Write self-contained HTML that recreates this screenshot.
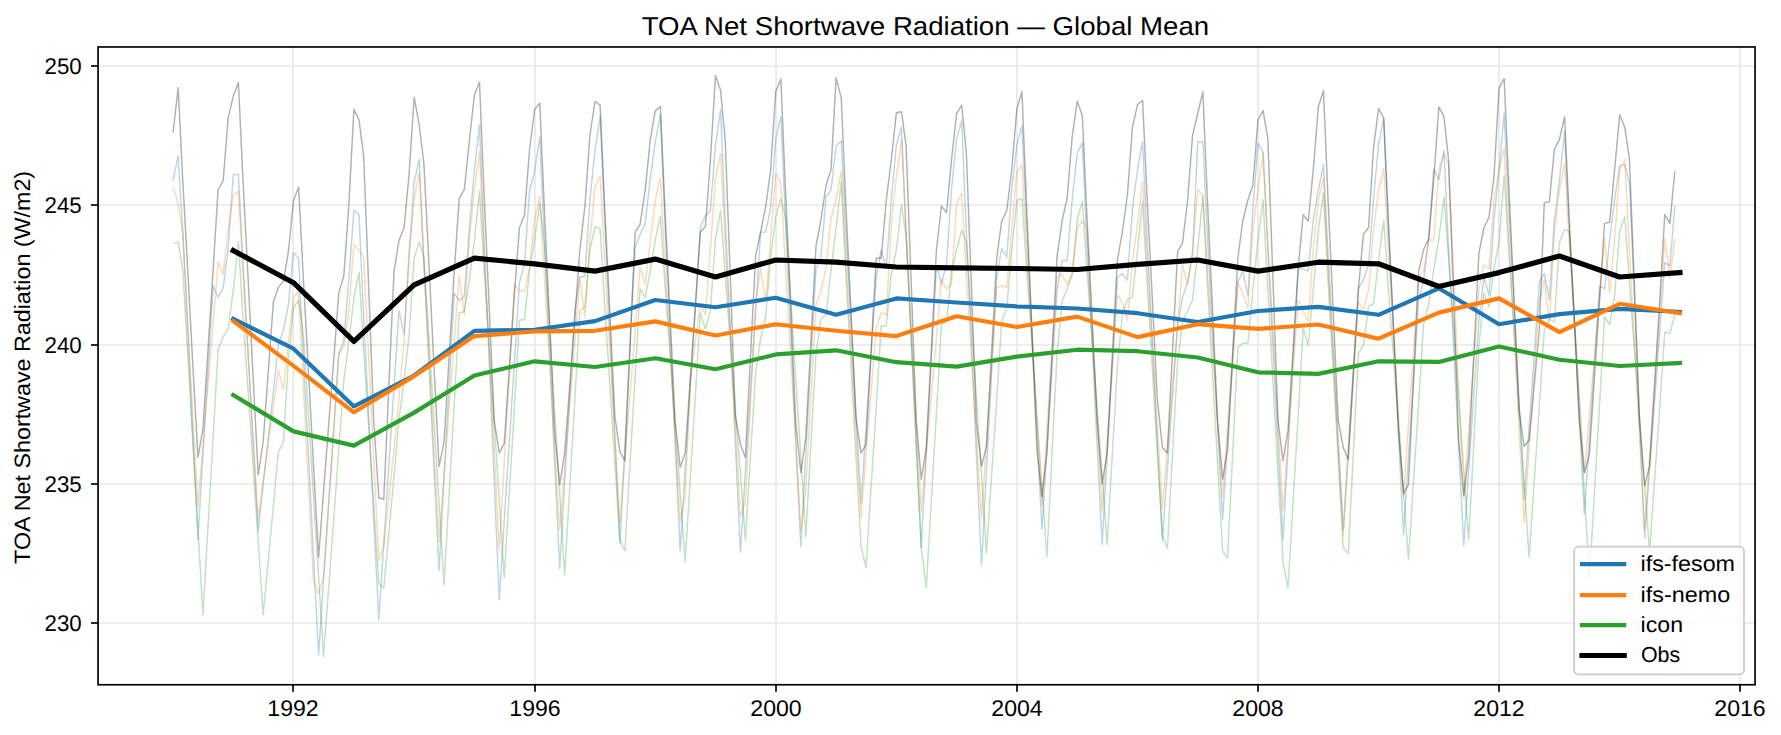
<!DOCTYPE html><html><head><meta charset="utf-8"><style>html,body{margin:0;padding:0;background:#fff;overflow:hidden}svg{display:block}text{font-family:"Liberation Sans",sans-serif;fill:#000;text-rendering:geometricPrecision}</style></head><body><svg width="1781" height="735" viewBox="0 0 1781 735"><rect x="0" y="0" width="1781" height="735" fill="#fff"/><line x1="98.05" y1="623.00" x2="1755.05" y2="623.00" stroke="#e8e8e8" stroke-width="1.67"/><line x1="98.05" y1="484.00" x2="1755.05" y2="484.00" stroke="#e8e8e8" stroke-width="1.67"/><line x1="98.05" y1="345.00" x2="1755.05" y2="345.00" stroke="#e8e8e8" stroke-width="1.67"/><line x1="98.05" y1="205.00" x2="1755.05" y2="205.00" stroke="#e8e8e8" stroke-width="1.67"/><line x1="98.05" y1="66.00" x2="1755.05" y2="66.00" stroke="#e8e8e8" stroke-width="1.67"/><line x1="293.00" y1="46.97" x2="293.00" y2="684.76" stroke="#e8e8e8" stroke-width="1.67"/><line x1="535.00" y1="46.97" x2="535.00" y2="684.76" stroke="#e8e8e8" stroke-width="1.67"/><line x1="776.00" y1="46.97" x2="776.00" y2="684.76" stroke="#e8e8e8" stroke-width="1.67"/><line x1="1017.00" y1="46.97" x2="1017.00" y2="684.76" stroke="#e8e8e8" stroke-width="1.67"/><line x1="1258.00" y1="46.97" x2="1258.00" y2="684.76" stroke="#e8e8e8" stroke-width="1.67"/><line x1="1499.00" y1="46.97" x2="1499.00" y2="684.76" stroke="#e8e8e8" stroke-width="1.67"/><line x1="1740.00" y1="46.97" x2="1740.00" y2="684.76" stroke="#e8e8e8" stroke-width="1.67"/><defs><clipPath id="ax"><rect x="98.05" y="46.97" width="1657.0" height="637.79"/></clipPath></defs><g clip-path="url(#ax)" fill="none" stroke-linejoin="round" stroke-linecap="butt"><polyline points="173.04,181.00 178.15,155.90 182.77,231.00 187.89,333.70 192.84,436.40 197.96,539.10 202.91,454.57 208.02,370.03 213.14,285.50 218.09,297.40 223.20,287.60 228.16,249.00 233.27,174.40 238.39,174.40 243.01,263.65 248.12,352.90 253.08,442.15 258.19,531.40 263.14,484.80 268.26,438.20 273.37,391.60 278.33,345.00 283.44,330.00 288.39,305.00 293.51,252.80 298.62,258.20 303.41,357.38 308.53,456.55 313.48,555.72 318.59,654.90 323.54,579.92 328.66,504.95 333.78,429.98 338.73,355.00 343.84,340.00 348.79,280.00 353.91,210.40 359.03,214.70 363.65,316.02 368.76,417.35 373.71,518.67 378.83,620.00 383.78,542.62 388.90,465.25 394.01,387.88 398.96,310.50 404.08,334.40 409.03,260.00 414.15,182.00 419.26,159.20 423.88,262.05 429.00,364.90 433.95,467.75 439.07,570.60 444.02,478.10 449.13,385.60 454.25,293.10 459.20,300.70 464.32,296.00 469.27,229.00 474.38,170.00 479.50,124.40 484.12,243.20 489.24,362.00 494.19,480.80 499.30,599.60 504.25,520.25 509.37,440.90 514.49,361.55 519.44,282.20 524.55,264.00 529.50,190.80 534.62,171.20 539.74,137.00 544.52,244.85 549.64,352.70 554.59,460.55 559.71,568.40 564.66,482.27 569.77,396.13 574.89,310.00 579.84,276.80 584.96,276.80 589.91,200.00 595.02,150.50 600.14,116.10 604.76,222.92 609.87,329.75 614.83,436.57 619.94,543.40 624.89,444.73 630.01,346.07 635.12,247.40 640.08,234.30 645.19,223.40 650.14,180.00 655.26,141.80 660.37,114.60 665.00,223.70 670.11,332.80 675.06,441.90 680.18,551.00 685.13,470.20 690.25,389.40 695.36,308.60 700.31,227.80 705.43,215.80 710.38,210.40 715.50,145.00 720.61,109.60 725.23,220.22 730.35,330.85 735.30,441.48 740.42,552.10 745.37,472.10 750.48,392.10 755.60,312.10 760.55,232.10 765.67,232.10 770.62,208.00 775.73,138.50 780.85,116.70 785.63,224.20 790.75,331.70 795.70,439.20 800.82,546.70 805.77,453.80 810.88,360.90 816.00,268.00 820.95,257.00 826.07,197.00 831.02,190.00 836.13,146.10 841.25,140.70 845.87,231.32 850.99,321.95 855.94,412.57 861.05,503.20 866.00,427.80 871.12,352.40 876.24,277.00 881.19,250.00 886.30,268.00 891.25,200.00 896.37,145.00 901.49,127.00 906.11,232.20 911.22,337.40 916.17,442.60 921.29,547.80 926.24,453.87 931.36,359.93 936.47,266.00 941.42,284.40 946.54,263.00 951.49,190.00 956.61,138.50 961.72,121.10 966.34,232.27 971.46,343.45 976.41,454.62 981.53,565.80 986.48,469.80 991.59,373.80 996.71,277.80 1001.66,248.50 1006.78,257.20 1011.73,190.00 1016.84,145.00 1021.96,125.90 1026.75,226.75 1031.86,327.60 1036.81,428.45 1041.93,529.30 1046.88,449.53 1052.00,369.77 1057.11,290.00 1062.06,260.40 1067.18,260.40 1072.13,200.00 1077.25,153.70 1082.36,142.90 1086.98,243.30 1092.10,343.70 1097.05,444.10 1102.17,544.50 1107.12,455.60 1112.23,366.70 1117.35,277.80 1122.30,273.50 1127.42,280.00 1132.37,210.00 1137.48,170.00 1142.60,141.80 1147.22,241.65 1152.34,341.50 1157.29,441.35 1162.40,541.20 1167.35,469.13 1172.47,397.07 1177.59,325.00 1182.54,297.00 1187.65,282.20 1192.60,253.90 1197.72,141.80 1202.83,141.80 1207.46,236.23 1212.57,330.65 1217.52,425.07 1222.64,519.50 1227.59,440.40 1232.71,361.30 1237.82,282.20 1242.77,271.30 1247.89,296.30 1252.84,210.00 1257.96,142.90 1263.07,152.70 1267.86,249.57 1272.97,346.45 1277.92,443.33 1283.04,540.20 1287.99,449.63 1293.11,359.07 1298.22,268.50 1303.17,269.10 1308.29,270.90 1313.24,220.00 1318.36,190.00 1323.47,164.60 1328.09,255.95 1333.21,347.30 1338.16,438.65 1343.28,530.00 1348.23,449.57 1353.34,369.13 1358.46,288.70 1363.41,280.00 1368.53,264.80 1373.48,200.00 1378.59,144.00 1383.71,118.90 1388.33,222.93 1393.45,326.95 1398.40,430.98 1403.51,535.00 1408.46,456.67 1413.58,378.33 1418.70,300.00 1423.65,280.00 1428.76,238.70 1433.71,169.00 1438.83,179.90 1443.95,150.50 1448.57,249.28 1453.68,348.05 1458.63,446.83 1463.75,545.60 1468.70,470.40 1473.82,395.20 1478.93,320.00 1483.88,277.80 1489.00,295.30 1493.95,220.00 1499.07,170.00 1504.18,113.00 1508.97,209.72 1514.09,306.45 1519.04,403.17 1524.15,499.90 1529.10,427.33 1534.22,354.77 1539.34,282.20 1544.29,273.50 1549.40,299.60 1554.35,220.00 1559.47,180.00 1564.59,132.00 1569.21,227.50 1574.32,323.00 1579.27,418.50 1584.39,514.00 1589.34,438.17 1594.46,362.33 1599.57,286.50 1604.52,288.70 1609.64,240.00 1614.59,200.00 1619.71,165.70 1624.82,164.60 1629.44,183.00 1634.56,301.33 1639.51,419.67 1644.63,538.00 1649.58,469.15 1654.69,400.30 1659.81,331.45 1664.76,262.60 1669.88,265.90 1674.83,206.00" stroke="#1f77b4" stroke-opacity="0.3" stroke-width="1.45"/><polyline points="173.04,186.40 178.15,204.00 182.77,234.00 187.89,324.80 192.84,415.60 197.96,506.40 202.91,445.35 208.02,384.30 213.14,323.25 218.09,262.20 223.20,274.60 228.16,230.00 233.27,195.10 238.39,190.80 243.01,272.70 248.12,354.60 253.08,436.50 258.19,518.40 263.14,481.30 268.26,444.20 273.37,407.10 278.33,370.00 283.44,390.00 288.39,342.00 293.51,298.00 298.62,291.00 303.41,387.83 308.53,484.67 313.48,581.50 318.59,593.50 323.54,577.20 328.66,502.47 333.78,427.73 338.73,353.00 343.84,347.00 348.79,311.00 353.91,244.10 359.03,250.60 363.65,257.20 368.76,358.40 373.71,459.60 378.83,560.80 383.78,546.70 388.90,497.80 394.01,448.90 398.96,400.00 404.08,340.00 409.03,250.00 414.15,200.00 419.26,172.30 423.88,264.80 429.00,357.30 433.95,449.80 439.07,542.30 444.02,475.65 449.13,409.00 454.25,342.35 459.20,275.70 464.32,314.90 469.27,240.00 474.38,190.00 479.50,151.60 484.12,251.20 489.24,350.80 494.19,450.40 499.30,550.00 504.25,461.47 509.37,372.93 514.49,284.40 519.44,290.90 524.55,290.90 529.50,268.00 534.62,220.00 539.74,196.20 544.52,279.65 549.64,363.10 554.59,446.55 559.71,530.00 564.66,467.25 569.77,404.50 574.89,341.75 579.84,279.00 584.96,317.00 589.91,240.00 595.02,186.40 600.14,176.20 604.76,262.82 609.87,349.45 614.83,436.08 619.94,522.70 624.89,458.78 630.01,394.85 635.12,330.93 640.08,267.00 645.19,284.40 650.14,243.00 655.26,200.00 660.37,177.70 665.00,263.70 670.11,349.70 675.06,435.70 680.18,521.70 685.13,496.60 690.25,380.00 695.36,342.00 700.31,304.00 705.43,314.90 710.38,249.50 715.50,177.70 720.61,153.70 725.23,244.32 730.35,334.95 735.30,425.58 740.42,516.20 745.37,503.20 750.48,403.60 755.60,304.00 760.55,268.00 765.67,301.80 770.62,240.00 775.73,173.30 780.85,183.10 785.63,269.82 790.75,356.55 795.70,443.27 800.82,530.00 805.77,490.00 810.88,397.50 816.00,305.00 820.95,291.00 826.07,268.00 831.02,218.00 836.13,200.00 841.25,171.20 845.87,258.00 850.99,344.80 855.94,431.60 861.05,518.40 866.00,454.90 871.12,391.40 876.24,327.90 881.19,312.70 886.30,314.90 891.25,225.00 896.37,176.60 901.49,139.60 906.11,232.67 911.22,325.75 916.17,418.82 921.29,511.90 926.24,453.67 931.36,395.45 936.47,337.23 941.42,279.00 946.54,289.80 951.49,283.00 956.61,204.00 961.72,192.90 966.34,274.27 971.46,355.65 976.41,437.02 981.53,518.40 986.48,441.47 991.59,364.53 996.71,287.60 1001.66,285.50 1006.78,287.60 1011.73,230.00 1016.84,171.20 1021.96,165.30 1026.75,250.30 1031.86,335.30 1036.81,420.30 1041.93,505.30 1046.88,429.13 1052.00,352.97 1057.11,276.80 1062.06,274.60 1067.18,284.40 1072.13,275.00 1077.25,227.80 1082.36,221.20 1086.98,227.80 1092.10,322.13 1097.05,416.47 1102.17,510.80 1107.12,438.97 1112.23,367.13 1117.35,295.30 1122.30,301.80 1127.42,320.30 1132.37,262.00 1137.48,225.00 1142.60,181.00 1147.22,262.90 1152.34,344.80 1157.29,426.70 1162.40,508.60 1167.35,447.70 1172.47,386.80 1177.59,325.90 1182.54,265.00 1187.65,284.40 1192.60,250.00 1197.72,189.70 1202.83,195.10 1207.46,270.48 1212.57,345.85 1217.52,421.23 1222.64,496.60 1227.59,425.13 1232.71,353.67 1237.82,282.20 1242.77,293.10 1247.89,308.30 1252.84,230.00 1257.96,190.00 1263.07,152.70 1267.86,242.22 1272.97,331.75 1277.92,421.28 1283.04,510.80 1287.99,440.53 1293.11,370.27 1298.22,300.00 1303.17,311.00 1308.29,321.40 1313.24,250.00 1318.36,200.00 1323.47,177.70 1328.09,267.02 1333.21,356.35 1338.16,445.68 1343.28,535.00 1348.23,457.27 1353.34,379.53 1358.46,301.80 1363.41,309.40 1368.53,290.90 1373.48,230.00 1378.59,190.00 1383.71,167.90 1388.33,250.08 1393.45,332.25 1398.40,414.43 1403.51,496.60 1408.46,423.67 1413.58,350.73 1418.70,277.80 1423.65,271.30 1428.76,240.00 1433.71,240.00 1438.83,170.00 1443.95,153.10 1448.57,164.60 1453.68,276.40 1458.63,388.20 1463.75,500.00 1468.70,430.00 1473.82,360.00 1478.93,290.00 1483.88,264.80 1489.00,269.10 1493.95,200.00 1499.07,170.00 1504.18,148.30 1508.97,241.90 1514.09,335.50 1519.04,429.10 1524.15,522.70 1529.10,448.47 1534.22,374.23 1539.34,300.00 1544.29,280.00 1549.40,322.00 1554.35,232.00 1559.47,190.00 1564.59,163.50 1569.21,240.80 1574.32,318.10 1579.27,395.40 1584.39,472.70 1589.34,414.20 1594.46,355.70 1599.57,297.20 1604.52,238.70 1609.64,293.00 1614.59,240.00 1619.71,170.00 1624.82,159.20 1629.44,251.90 1634.56,344.60 1639.51,437.30 1644.63,530.00 1649.58,457.18 1654.69,384.35 1659.81,311.52 1664.76,238.70 1669.88,277.80 1674.83,238.70" stroke="#ff7f0e" stroke-opacity="0.3" stroke-width="1.45"/><polyline points="173.04,243.40 178.15,241.90 182.77,270.00 187.89,356.20 192.84,442.40 197.96,528.60 202.91,614.80 208.02,526.43 213.14,438.07 218.09,349.70 223.20,336.60 228.16,329.00 233.27,290.00 238.39,241.90 243.01,316.48 248.12,391.06 253.08,465.64 258.19,540.22 263.14,614.80 268.26,560.53 273.37,506.27 278.33,452.00 283.44,442.20 288.39,360.00 293.51,308.00 298.62,300.00 303.41,336.00 308.53,416.15 313.48,496.30 318.59,576.45 323.54,656.60 328.66,587.73 333.78,518.87 338.73,450.00 343.84,380.00 348.79,342.00 353.91,298.00 359.03,272.40 363.65,350.23 368.76,428.05 373.71,505.88 378.83,583.70 383.78,588.00 388.90,532.00 394.01,476.00 398.96,420.00 404.08,380.00 409.03,335.00 414.15,258.20 419.26,241.90 423.88,257.20 429.00,339.10 433.95,421.00 439.07,502.90 444.02,584.80 449.13,494.10 454.25,403.40 459.20,312.70 464.32,311.60 469.27,281.00 474.38,240.00 479.50,191.40 484.12,268.68 489.24,345.96 494.19,423.24 499.30,500.52 504.25,577.80 509.37,491.97 514.49,406.13 519.44,320.30 524.55,319.20 529.50,270.00 534.62,240.00 539.74,203.50 544.52,246.00 549.64,328.25 554.59,410.50 559.71,492.75 564.66,575.00 569.77,486.83 574.89,398.67 579.84,310.50 584.96,307.20 589.91,249.50 595.02,226.70 600.14,228.90 604.76,306.70 609.87,384.50 614.83,462.30 619.94,540.10 624.89,551.00 630.01,463.57 635.12,376.13 640.08,288.70 645.19,297.40 650.14,271.30 655.26,240.00 660.37,215.80 665.00,285.02 670.11,354.24 675.06,423.46 680.18,492.68 685.13,561.90 690.25,478.83 695.36,395.77 700.31,312.70 705.43,329.00 710.38,311.00 715.50,238.00 720.61,210.40 725.23,276.34 730.35,342.28 735.30,408.22 740.42,474.16 745.37,540.10 750.48,456.55 755.60,373.00 760.55,339.00 765.67,317.00 770.62,257.00 775.73,217.00 780.85,198.40 785.63,218.00 790.75,297.73 795.70,377.45 800.82,457.17 805.77,536.90 810.88,444.95 816.00,353.00 820.95,319.20 826.07,314.90 831.02,270.00 836.13,227.80 841.25,182.00 845.87,273.18 850.99,364.35 855.94,455.53 861.05,546.70 866.00,567.40 871.12,486.83 876.24,406.27 881.19,325.70 886.30,325.70 891.25,274.00 896.37,250.00 901.49,205.00 906.11,236.00 911.22,339.93 916.17,443.87 921.29,547.80 926.24,587.60 931.36,499.93 936.47,412.27 941.42,324.60 946.54,321.40 951.49,271.30 956.61,250.00 961.72,230.00 966.34,241.90 971.46,319.73 976.41,397.55 981.53,475.38 986.48,553.20 991.59,475.80 996.71,398.40 1001.66,321.00 1006.78,308.30 1011.73,250.00 1016.84,200.50 1021.96,198.40 1026.75,270.02 1031.86,341.64 1036.81,413.26 1041.93,484.88 1046.88,556.50 1052.00,454.75 1057.11,353.00 1062.06,301.80 1067.18,288.70 1072.13,274.00 1077.25,220.00 1082.36,201.00 1086.98,269.70 1092.10,338.40 1097.05,407.10 1102.17,475.80 1107.12,544.50 1112.23,455.75 1117.35,367.00 1122.30,315.00 1127.42,299.60 1132.37,297.40 1137.48,250.00 1142.60,201.60 1147.22,284.95 1152.34,368.30 1157.29,451.65 1162.40,535.00 1167.35,548.40 1172.47,455.20 1177.59,362.00 1182.54,321.00 1187.65,311.00 1192.60,299.60 1197.72,250.00 1202.83,196.20 1207.46,284.90 1212.57,373.60 1217.52,462.30 1222.64,551.00 1227.59,558.20 1232.71,452.85 1237.82,347.50 1242.77,343.20 1247.89,343.20 1252.84,290.00 1257.96,240.00 1263.07,199.50 1267.86,290.10 1272.97,380.70 1277.92,471.30 1283.04,561.90 1287.99,588.00 1293.11,501.33 1298.22,414.67 1303.17,328.00 1308.29,345.30 1313.24,290.00 1318.36,230.00 1323.47,192.90 1328.09,281.62 1333.21,370.35 1338.16,459.07 1343.28,547.80 1348.23,553.90 1353.34,453.45 1358.46,353.00 1363.41,345.30 1368.53,306.10 1373.48,304.00 1378.59,260.00 1383.71,220.10 1388.33,287.90 1393.45,355.70 1398.40,423.50 1403.51,491.30 1408.46,559.10 1413.58,480.60 1418.70,402.10 1423.65,323.60 1428.76,304.00 1433.71,270.00 1438.83,239.00 1443.95,197.30 1448.57,257.00 1453.68,327.77 1458.63,398.55 1463.75,469.33 1468.70,540.10 1473.82,443.05 1478.93,346.00 1483.88,293.10 1489.00,307.00 1493.95,268.00 1499.07,242.00 1504.18,175.50 1508.97,251.92 1514.09,328.34 1519.04,404.76 1524.15,481.18 1529.10,557.60 1534.22,481.73 1539.34,405.87 1544.29,330.00 1549.40,319.00 1554.35,322.00 1559.47,242.00 1564.59,230.00 1569.21,231.00 1574.32,318.07 1579.27,405.15 1584.39,492.22 1589.34,579.30 1594.46,491.87 1599.57,404.43 1604.52,317.00 1609.64,325.00 1614.59,296.00 1619.71,231.00 1624.82,216.90 1629.44,283.92 1634.56,350.94 1639.51,417.96 1644.63,484.98 1649.58,552.00 1654.69,478.77 1659.81,405.53 1664.76,332.30 1669.88,333.40 1674.83,314.90" stroke="#2ca02c" stroke-opacity="0.3" stroke-width="1.45"/><polyline points="173.04,132.60 178.15,87.80 182.77,180.20 187.89,272.60 192.84,365.00 197.96,457.40 202.91,429.00 208.02,349.23 213.14,269.47 218.09,189.70 223.20,180.50 228.16,117.80 233.27,96.10 238.39,82.60 243.01,180.65 248.12,278.70 253.08,376.75 258.19,474.80 263.14,442.00 268.26,371.90 273.37,301.80 278.33,287.60 283.44,281.10 288.39,251.70 293.51,200.50 298.62,187.10 303.41,279.73 308.53,372.35 313.48,464.98 318.59,557.60 323.54,491.48 328.66,425.35 333.78,359.23 338.73,293.10 343.84,275.70 348.79,206.00 353.91,109.10 359.03,120.00 363.65,155.90 368.76,287.95 373.71,420.00 378.83,497.70 383.78,499.20 388.90,385.25 394.01,271.30 398.96,240.80 404.08,227.80 409.03,175.00 414.15,97.20 419.26,125.40 423.88,163.50 429.00,264.53 433.95,365.57 439.07,466.60 444.02,442.20 449.13,356.75 454.25,271.30 459.20,198.40 464.32,189.70 469.27,141.80 474.38,95.00 479.50,81.90 484.12,194.73 489.24,307.57 494.19,420.40 499.30,453.10 504.25,443.30 509.37,368.15 514.49,293.00 519.44,227.80 524.55,214.70 529.50,150.00 534.62,109.60 539.74,103.00 544.52,212.43 549.64,321.87 554.59,431.30 559.71,484.60 564.66,453.10 569.77,385.40 574.89,317.70 579.84,250.00 584.96,206.00 589.91,135.20 595.02,101.50 600.14,105.20 604.76,208.83 609.87,312.47 614.83,416.10 619.94,452.00 624.89,460.70 630.01,346.40 635.12,232.10 640.08,224.50 645.19,190.00 650.14,140.70 655.26,110.90 660.37,106.50 665.00,211.13 670.11,315.77 675.06,420.40 680.18,467.20 685.13,453.10 690.25,379.43 695.36,305.77 700.31,232.10 705.43,226.70 710.38,160.00 715.50,75.40 720.61,90.60 725.23,140.70 730.35,278.40 735.30,416.10 740.42,444.40 745.37,457.40 750.48,356.75 755.60,256.10 760.55,232.10 765.67,207.00 770.62,170.00 775.73,91.70 780.85,79.10 785.63,193.60 790.75,308.10 795.70,422.60 800.82,472.70 805.77,437.80 810.88,341.90 816.00,246.00 820.95,220.00 826.07,185.00 831.02,170.00 836.13,77.60 841.25,98.20 845.87,204.87 850.99,311.53 855.94,418.20 861.05,453.10 866.00,444.40 871.12,351.30 876.24,258.20 881.19,258.20 886.30,200.00 891.25,160.00 896.37,112.80 901.49,111.70 906.11,146.10 911.22,283.05 916.17,420.00 921.29,479.20 926.24,448.70 931.36,349.10 936.47,249.50 941.42,206.00 946.54,212.50 951.49,160.00 956.61,113.50 961.72,105.20 966.34,152.70 971.46,287.65 976.41,422.60 981.53,466.10 986.48,446.50 991.59,352.35 996.71,258.20 1001.66,221.20 1006.78,210.40 1011.73,170.00 1016.84,109.10 1021.96,91.70 1026.75,210.70 1031.86,329.70 1036.81,448.70 1041.93,496.60 1046.88,453.10 1052.00,354.60 1057.11,256.10 1062.06,221.00 1067.18,198.00 1072.13,137.40 1077.25,100.90 1082.36,116.10 1086.98,217.40 1092.10,318.70 1097.05,420.00 1102.17,483.60 1107.12,453.10 1112.23,356.75 1117.35,260.40 1122.30,232.10 1127.42,195.00 1132.37,127.60 1137.48,104.80 1142.60,100.40 1147.22,199.83 1152.34,299.27 1157.29,398.70 1162.40,447.60 1167.35,453.10 1172.47,352.40 1177.59,251.70 1182.54,243.00 1187.65,200.00 1192.60,135.20 1197.72,113.50 1202.83,91.70 1207.46,201.13 1212.57,310.57 1217.52,420.00 1222.64,479.20 1227.59,448.70 1232.71,353.35 1237.82,258.00 1242.77,221.00 1247.89,200.00 1252.84,185.30 1257.96,120.00 1263.07,110.60 1267.86,138.50 1272.97,279.25 1277.92,420.00 1283.04,460.70 1287.99,430.00 1293.11,349.00 1298.22,268.00 1303.17,214.70 1308.29,221.20 1313.24,170.00 1318.36,106.90 1323.47,90.60 1328.09,200.40 1333.21,310.20 1338.16,420.00 1343.28,447.60 1348.23,459.60 1353.34,374.15 1358.46,288.70 1363.41,234.30 1368.53,227.80 1373.48,148.30 1378.59,108.50 1383.71,117.80 1388.33,221.87 1393.45,325.93 1398.40,430.00 1403.51,493.40 1408.46,484.60 1413.58,377.95 1418.70,271.30 1423.65,249.50 1428.76,238.70 1433.71,180.00 1438.83,106.90 1443.95,116.70 1448.57,160.00 1453.68,300.00 1458.63,440.00 1463.75,495.50 1468.70,455.30 1473.82,354.15 1478.93,253.00 1483.88,228.00 1489.00,217.00 1493.95,176.60 1499.07,88.40 1504.18,78.70 1508.97,189.13 1514.09,299.57 1519.04,410.00 1524.15,446.50 1529.10,440.00 1534.22,385.00 1539.34,330.00 1544.29,202.70 1549.40,201.60 1554.35,149.40 1559.47,139.60 1564.59,116.70 1569.21,217.80 1574.32,318.90 1579.27,420.00 1584.39,472.70 1589.34,455.30 1594.46,377.65 1599.57,300.00 1604.52,223.40 1609.64,222.30 1614.59,170.00 1619.71,114.60 1624.82,127.60 1629.44,159.20 1634.56,289.60 1639.51,420.00 1644.63,485.70 1649.58,466.10 1654.69,383.05 1659.81,300.00 1664.76,214.70 1669.88,223.40 1674.83,171.20" stroke="#000000" stroke-opacity="0.31" stroke-width="1.45"/><polyline points="233.27,318.90 293.51,348.70 353.91,406.40 414.15,375.50 474.38,330.80 534.62,329.80 595.02,321.10 655.26,300.00 715.50,307.20 775.73,297.80 836.13,314.80 896.37,298.40 956.61,302.50 1016.84,306.30 1077.25,308.50 1137.48,313.20 1197.72,322.00 1257.96,311.00 1318.36,306.90 1378.59,314.80 1438.83,288.30 1499.07,324.20 1559.47,314.10 1619.71,308.80 1679.94,311.90" stroke="#1f77b4" stroke-width="4.17" stroke-linecap="square"/><polyline points="233.27,321.10 293.51,365.80 353.91,412.30 414.15,376.10 474.38,336.10 534.62,331.40 595.02,330.80 655.26,321.40 715.50,335.50 775.73,324.20 836.13,330.80 896.37,336.10 956.61,316.30 1016.84,327.00 1077.25,316.60 1137.48,337.10 1197.72,324.20 1257.96,328.90 1318.36,324.50 1378.59,338.70 1438.83,312.60 1499.07,298.40 1559.47,332.10 1619.71,303.80 1679.94,313.20" stroke="#ff7f0e" stroke-width="4.17" stroke-linecap="square"/><polyline points="233.27,395.00 293.51,431.40 353.91,445.60 414.15,412.60 474.38,375.50 534.62,361.30 595.02,367.00 655.26,358.20 715.50,369.20 775.73,354.40 836.13,350.30 896.37,362.20 956.61,366.60 1016.84,356.60 1077.25,349.70 1137.48,351.20 1197.72,357.50 1257.96,372.30 1318.36,373.90 1378.59,361.30 1438.83,361.90 1499.07,346.50 1559.47,359.70 1619.71,366.00 1679.94,362.90" stroke="#2ca02c" stroke-width="4.17" stroke-linecap="square"/><polyline points="233.27,250.60 293.51,282.70 353.91,341.40 414.15,284.90 474.38,258.20 534.62,263.80 595.02,271.10 655.26,259.10 715.50,277.00 775.73,260.00 836.13,262.20 896.37,267.00 956.61,267.90 1016.84,268.50 1077.25,269.50 1137.48,264.40 1197.72,260.00 1257.96,271.10 1318.36,262.20 1378.59,263.80 1438.83,286.50 1499.07,272.60 1559.47,256.00 1619.71,277.00 1679.94,272.60" stroke="#000000" stroke-width="5.2" stroke-linecap="square"/></g><rect x="98.05" y="46.97" width="1657.00" height="637.79" fill="none" stroke="#000" stroke-width="1.67" stroke-linejoin="miter"/><line x1="91.05" y1="623.00" x2="98.05" y2="623.00" stroke="#000" stroke-width="1.67"/><text x="81.7" y="630.85" font-size="22.6" text-anchor="end" textLength="37.2" lengthAdjust="spacingAndGlyphs">230</text><line x1="91.05" y1="484.00" x2="98.05" y2="484.00" stroke="#000" stroke-width="1.67"/><text x="81.7" y="491.85" font-size="22.6" text-anchor="end" textLength="37.2" lengthAdjust="spacingAndGlyphs">235</text><line x1="91.05" y1="345.00" x2="98.05" y2="345.00" stroke="#000" stroke-width="1.67"/><text x="81.7" y="352.85" font-size="22.6" text-anchor="end" textLength="37.2" lengthAdjust="spacingAndGlyphs">240</text><line x1="91.05" y1="205.00" x2="98.05" y2="205.00" stroke="#000" stroke-width="1.67"/><text x="81.7" y="212.85" font-size="22.6" text-anchor="end" textLength="37.2" lengthAdjust="spacingAndGlyphs">245</text><line x1="91.05" y1="66.00" x2="98.05" y2="66.00" stroke="#000" stroke-width="1.67"/><text x="81.7" y="73.85" font-size="22.6" text-anchor="end" textLength="37.2" lengthAdjust="spacingAndGlyphs">250</text><line x1="293.00" y1="684.76" x2="293.00" y2="691.76" stroke="#000" stroke-width="1.67"/><text x="293.00" y="716.4" font-size="22.6" text-anchor="middle" textLength="51.3" lengthAdjust="spacingAndGlyphs">1992</text><line x1="535.00" y1="684.76" x2="535.00" y2="691.76" stroke="#000" stroke-width="1.67"/><text x="535.00" y="716.4" font-size="22.6" text-anchor="middle" textLength="51.3" lengthAdjust="spacingAndGlyphs">1996</text><line x1="776.00" y1="684.76" x2="776.00" y2="691.76" stroke="#000" stroke-width="1.67"/><text x="776.00" y="716.4" font-size="22.6" text-anchor="middle" textLength="51.3" lengthAdjust="spacingAndGlyphs">2000</text><line x1="1017.00" y1="684.76" x2="1017.00" y2="691.76" stroke="#000" stroke-width="1.67"/><text x="1017.00" y="716.4" font-size="22.6" text-anchor="middle" textLength="51.3" lengthAdjust="spacingAndGlyphs">2004</text><line x1="1258.00" y1="684.76" x2="1258.00" y2="691.76" stroke="#000" stroke-width="1.67"/><text x="1258.00" y="716.4" font-size="22.6" text-anchor="middle" textLength="51.3" lengthAdjust="spacingAndGlyphs">2008</text><line x1="1499.00" y1="684.76" x2="1499.00" y2="691.76" stroke="#000" stroke-width="1.67"/><text x="1499.00" y="716.4" font-size="22.6" text-anchor="middle" textLength="51.3" lengthAdjust="spacingAndGlyphs">2012</text><line x1="1740.00" y1="684.76" x2="1740.00" y2="691.76" stroke="#000" stroke-width="1.67"/><text x="1740.00" y="716.4" font-size="22.6" text-anchor="middle" textLength="51.3" lengthAdjust="spacingAndGlyphs">2016</text><text x="925.4" y="34.8" font-size="25.9" text-anchor="middle" textLength="567.5" lengthAdjust="spacingAndGlyphs">TOA Net Shortwave Radiation — Global Mean</text><text transform="translate(29.9,367.4) rotate(-90)" x="0" y="0" font-size="22.2" text-anchor="middle" textLength="393" lengthAdjust="spacingAndGlyphs">TOA Net Shortwave Radiation (W/m2)</text><rect x="1574.1" y="546.7" width="169.9" height="127.6" rx="4.2" ry="4.2" fill="#fff" fill-opacity="0.8" stroke="#cdcdcd" stroke-width="1.8"/><line x1="1582.0" y1="564.10" x2="1624.2" y2="564.10" stroke="#1f77b4" stroke-width="4.17" stroke-linecap="square"/><line x1="1582.0" y1="595.20" x2="1624.2" y2="595.20" stroke="#ff7f0e" stroke-width="4.17" stroke-linecap="square"/><line x1="1582.0" y1="625.10" x2="1624.2" y2="625.10" stroke="#2ca02c" stroke-width="4.17" stroke-linecap="square"/><line x1="1582.0" y1="655.50" x2="1624.2" y2="655.50" stroke="#000" stroke-width="5.2" stroke-linecap="square"/><text x="1640.6" y="570.80" font-size="21.9" textLength="94.4" lengthAdjust="spacingAndGlyphs">ifs-fesom</text><text x="1640.6" y="601.90" font-size="21.9" textLength="89.7" lengthAdjust="spacingAndGlyphs">ifs-nemo</text><text x="1640.6" y="631.80" font-size="21.9" textLength="42.4" lengthAdjust="spacingAndGlyphs">icon</text><text x="1641.0" y="662.20" font-size="21.9" textLength="39.2" lengthAdjust="spacingAndGlyphs">Obs</text></svg></body></html>
